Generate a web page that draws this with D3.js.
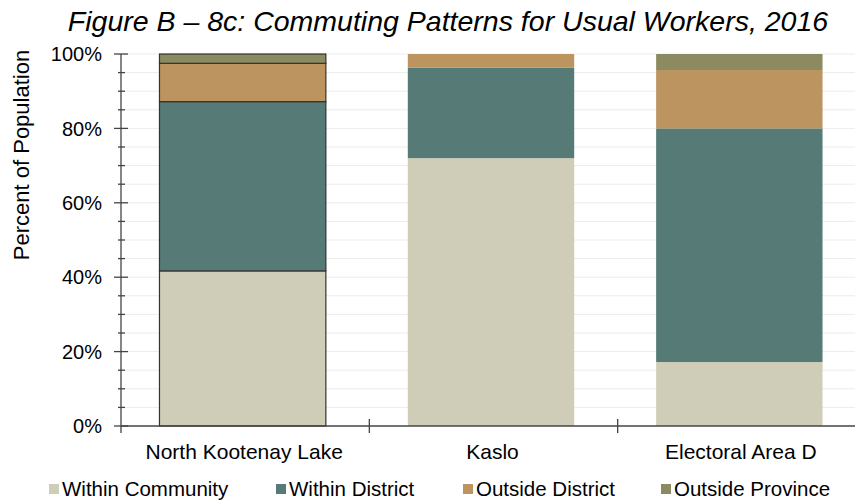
<!DOCTYPE html>
<html>
<head>
<meta charset="utf-8">
<script src="https://cdn.jsdelivr.net/npm/d3@7"></script>
<style>
  body { margin: 0; background: #fff; }
  text { font-family: "Liberation Sans", Arial, sans-serif; fill: #000; }
</style>
</head>
<body>
<div id="chart"></div>
<script>
const categories = ["North Kootenay Lake", "Kaslo", "Electoral Area D"];
const seriesNames = ["Within Community", "Within District", "Outside District", "Outside Province"];
const withinCommunity = [41.7, 72.0, 17.2];
const withinDistrict = [45.5, 24.3, 62.8];
const outsideDistrict = [10.3, 3.7, 15.7];
const outsideProvince = [2.5, 0, 4.3];
const yTicks = [0, 20, 40, 60, 80, 100];
const colors = ["#cfcdb8", "#567a76", "#bb945f", "#8b8a60"];

const width = 855, height = 501;
const plotLeft = 121, plotRight = 866, plotTop = 54, plotBottom = 426;

const rows = categories.map((c, i) => ({
  cat: c,
  "Within Community": withinCommunity[i],
  "Within District": withinDistrict[i],
  "Outside District": outsideDistrict[i],
  "Outside Province": outsideProvince[i]
}));
const stacked = d3.stack().keys(seriesNames)(rows);

const svg = d3.select("#chart")
  .append("svg")
  .attr("width", width)
  .attr("height", height);

const x = d3.scaleBand().domain(categories).range([plotLeft, plotRight]).paddingInner(0.33).paddingOuter(0.165);
const gap = (x.step() - x.bandwidth()) / 2;
const y = d3.scaleLinear().domain([0, 100]).range([plotBottom, plotTop]);

// light gridlines every 5%
svg.append("g")
  .selectAll("line")
  .data(d3.range(5, 101, 5))
  .join("line")
  .attr("x1", plotLeft)
  .attr("x2", width)
  .attr("y1", d => y(d))
  .attr("y2", d => y(d))
  .attr("stroke", "#ececec")
  .attr("stroke-width", 1);

// bars
svg.append("g")
  .selectAll("g")
  .data(stacked)
  .join("g")
  .attr("fill", (d, i) => colors[i])
  .selectAll("rect")
  .data(d => d)
  .join("rect")
  .attr("x", d => x(d.data.cat) - 2.5)
  .attr("y", d => y(d[1]))
  .attr("width", x.bandwidth())
  .attr("height", d => y(d[0]) - y(d[1]))
  .attr("stroke", d => d.data.cat === "North Kootenay Lake" ? "#333" : "none")
  .attr("stroke-width", 1.2);

// y axis
const yAxis = svg.append("g").attr("transform", `translate(${plotLeft},0)`);
yAxis.append("line")
  .attr("x1", 0).attr("x2", 0)
  .attr("y1", plotTop).attr("y2", plotBottom + 7)
  .attr("stroke", "#444").attr("stroke-width", 1.3);
yAxis.selectAll(".minor")
  .data(d3.range(0, 101, 5).filter(d => d % 20 !== 0))
  .join("line")
  .attr("class", "minor")
  .attr("x1", -3).attr("x2", 4)
  .attr("y1", d => y(d)).attr("y2", d => y(d))
  .attr("stroke", "#444").attr("stroke-width", 1.3);
yAxis.selectAll(".major")
  .data(yTicks)
  .join("line")
  .attr("class", "major")
  .attr("x1", -7).attr("x2", 7)
  .attr("y1", d => y(d)).attr("y2", d => y(d))
  .attr("stroke", "#444").attr("stroke-width", 1.3);
yAxis.selectAll("text")
  .data(yTicks)
  .join("text")
  .attr("x", -19)
  .attr("y", d => y(d))
  .attr("dy", "0.36em")
  .attr("text-anchor", "end")
  .style("font-size", "20px")
  .text(d => d + "%");

// x axis
const xAxis = svg.append("g");
xAxis.append("line")
  .attr("x1", plotLeft).attr("x2", width)
  .attr("y1", plotBottom).attr("y2", plotBottom)
  .attr("stroke", "#444").attr("stroke-width", 1.3);
xAxis.selectAll("line.tick")
  .data(categories.slice(1))
  .join("line")
  .attr("class", "tick")
  .attr("x1", d => x(d) - gap)
  .attr("x2", d => x(d) - gap)
  .attr("y1", plotBottom - 7).attr("y2", plotBottom + 7)
  .attr("stroke", "#444").attr("stroke-width", 1.3);
xAxis.selectAll("text")
  .data(categories)
  .join("text")
  .attr("x", d => x(d) + x.bandwidth() / 2 - 1)
  .attr("y", 459)
  .attr("text-anchor", "middle")
  .style("font-size", "21px")
  .text(d => d);

// y title
svg.append("text")
  .attr("transform", "translate(29,155) rotate(-90)")
  .attr("text-anchor", "middle")
  .style("font-size", "22px")
  .text("Percent of Population");

// title
svg.append("text")
  .attr("x", 448)
  .attr("y", 31)
  .attr("text-anchor", "middle")
  .style("font-size", "28.5px")
  .style("font-style", "italic")
  .text("Figure B – 8c: Commuting Patterns for Usual Workers, 2016");

// legend
const legendX = [49, 276, 463, 661];
const legend = svg.append("g")
  .selectAll("g")
  .data(seriesNames)
  .join("g")
  .attr("transform", (d, i) => `translate(${legendX[i]},489)`);
legend.append("rect")
  .attr("x", 0).attr("y", -5)
  .attr("width", 10).attr("height", 10)
  .attr("fill", (d, i) => colors[i]);
legend.append("text")
  .attr("x", 13)
  .attr("y", 0)
  .attr("dy", "0.34em")
  .style("font-size", "20.5px")
  .text(d => d);
</script>
</body>
</html>
